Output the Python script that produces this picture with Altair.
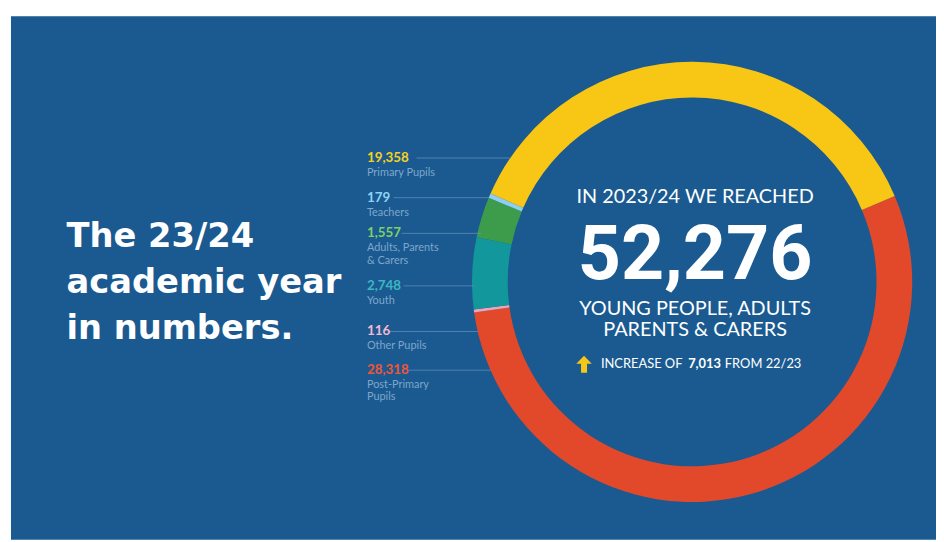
import math
import altair as alt
import pandas as pd

# ---- data ----
categories = ["Post-Primary Pupils", "Other Pupils", "Youth", "Adults, Parents & Carers", "Teachers", "Primary Pupils"]
values = [28318, 116, 2748, 1557, 179, 19358]
number_labels = ["28,318", "116", "2,748", "1,557", "179", "19,358"]
label_lines = [["Post-Primary", "Pupils"], ["Other Pupils"], ["Youth"], ["Adults, Parents", "& Carers"], ["Teachers"], ["Primary Pupils"]]
ring_colors = ["#e2492b", "#f0a3b6", "#12979c", "#3d9c4c", "#8ccff0", "#f8c614"]
number_colors = ["#f0553a", "#f4b9cf", "#3cb6c4", "#7ccf6a", "#8fd2f6", "#f6d11e"]

title_lines = ["The 23/24", "academic year", "in numbers."]
headline_top = "IN 2023/24 WE REACHED"
headline_total = "52,276"
headline_sub = ["YOUNG PEOPLE, ADULTS", "PARENTS & CARERS"]
increase_value = "7,013"

# ---- layout (pixels) ----
W, H = 936, 534
BG = "#1a5a90"
CX, CY = 690, 274
R_OUT, R_IN = 222, 186
START = math.radians(67)
label_x = 362
num_y = [363, 324, 278, 225, 189, 149]
line_from = [404, 385, 399, 397, 389, 412]
line_to = [487, 474, 470, 477, 485, 507]
TX = CX + 3

ring_df = pd.DataFrame({"category": categories, "value": values, "order": list(range(len(values))), "color": ring_colors})

panel = alt.Chart(pd.DataFrame({"a": [0]})).mark_rect(color=BG).encode(
    x=alt.value(3), x2=alt.value(W), y=alt.value(6), y2=alt.value(H)
)

ring = alt.Chart(ring_df).mark_arc(innerRadius=R_IN, outerRadius=R_OUT).encode(
    theta=alt.Theta("value:Q", stack=True, scale=alt.Scale(range=[START, START + 2 * math.pi])),
    order=alt.Order("order:Q"),
    color=alt.Color("color:N", scale=None),
    x=alt.value(CX),
    y=alt.value(CY),
)

lines_df = pd.DataFrame({"y": num_y, "x1": line_from, "x2": line_to})
leader = alt.Chart(lines_df).mark_rule(color="#6f98c0", strokeWidth=0.8, opacity=0.8).encode(
    x=alt.X("x1:Q", scale=None), x2="x2:Q", y=alt.Y("y:Q", scale=None)
)

nums_df = pd.DataFrame({"t": number_labels, "y": num_y, "c": number_colors})
nums = alt.Chart(nums_df).mark_text(
    align="left", baseline="middle", font="Lato", fontWeight="bold", fontSize=13.5
).encode(
    text="t:N", y=alt.Y("y:Q", scale=None), x=alt.value(label_x), color=alt.Color("c:N", scale=None)
)

lab_rows = []
for yy, lines in zip(num_y, label_lines):
    lab_rows.append({"t": lines, "y": yy + 15})
labs_df = pd.DataFrame(lab_rows)
labs = alt.Chart(labs_df).mark_text(
    align="left", baseline="middle", font="Lato", fontSize=11, lineHeight=12.5, color="#7fa6cc"
).encode(text="t", y=alt.Y("y:Q", scale=None), x=alt.value(label_x))

title = alt.Chart(pd.DataFrame({"t": [title_lines]})).mark_text(
    align="left", baseline="alphabetic", font="DejaVu Sans", fontWeight="bold", fontSize=34,
    lineHeight=46.5, color="white"
).encode(text="t", x=alt.value(59), y=alt.value(239))

top_txt = alt.Chart(pd.DataFrame({"t": [headline_top]})).mark_text(
    align="center", baseline="middle", font="Lato", fontSize=20, color="white"
).encode(text="t:N", x=alt.value(TX), y=alt.value(188))

big = alt.Chart(pd.DataFrame({"t": [headline_total]})).mark_text(
    align="center", baseline="alphabetic", font="Roboto", fontWeight="bold", fontSize=76, color="white"
).encode(text="t:N", x=alt.value(TX), y=alt.value(271))

sub = alt.Chart(pd.DataFrame({"t": [headline_sub]})).mark_text(
    align="center", baseline="middle", font="Lato", fontSize=20, lineHeight=22, color="white"
).encode(text="t", x=alt.value(TX), y=alt.value(301))

arrow = alt.Chart(pd.DataFrame({"a": [0]})).mark_point(
    shape="M0,-1L0.9,-0.05L0.35,-0.05L0.35,1L-0.35,1L-0.35,-0.05L-0.9,-0.05Z",
    filled=True, color="#f6c61a", size=300, opacity=1, strokeWidth=0
).encode(x=alt.value(581), y=alt.value(357))

inc1 = alt.Chart(pd.DataFrame({"t": ["INCREASE OF"]})).mark_text(
    align="left", baseline="middle", font="Lato", fontSize=13, color="white"
).encode(text="t:N", x=alt.value(598), y=alt.value(357))
inc2 = alt.Chart(pd.DataFrame({"t": [increase_value]})).mark_text(
    align="left", baseline="middle", font="Lato", fontWeight="bold", fontSize=13, color="white"
).encode(text="t:N", x=alt.value(686), y=alt.value(357))
inc3 = alt.Chart(pd.DataFrame({"t": ["FROM 22/23"]})).mark_text(
    align="left", baseline="middle", font="Lato", fontSize=13, color="white"
).encode(text="t:N", x=alt.value(723), y=alt.value(357))

chart = alt.layer(
    panel, ring, leader, nums, labs, title, top_txt, big, sub, arrow, inc1, inc2, inc3
).properties(
    width=W, height=H, autosize=alt.AutoSizeParams(type="none"), padding=0, background="white"
).configure_view(stroke=None)

chart.save("out.html", embed_options={"renderer": "svg", "actions": False})
